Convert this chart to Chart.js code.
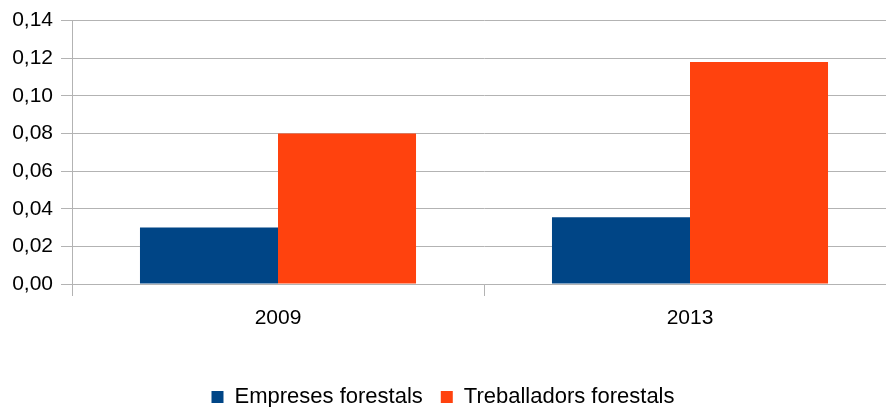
<!DOCTYPE html>
<html>
<head>
<meta charset="utf-8">
<script src="https://cdn.jsdelivr.net/npm/chart.js@4/dist/chart.umd.min.js"></script>
<style>
  html, body { margin: 0; padding: 0; background: #fff; overflow: hidden; }
  #clip { width: 886px; height: 407px; overflow: hidden; position: relative; }
  #wrap { width: 896px; height: 418px; position: absolute; left: 0; top: 0; }
</style>
</head>
<body>
<div id="clip"><div id="wrap"><canvas id="chart"></canvas></div></div>
<script>
// dades llegides del gràfic
const years = ['2009', '2013'];
const empreses = [0.030, 0.0355];
const treballadors = [0.080, 0.118];
const yTicks = [0, 0.02, 0.04, 0.06, 0.08, 0.10, 0.12, 0.14];

const gridColor = '#b3b3b3';
const fontFamily = '"Liberation Sans", Arial, sans-serif';

function fmt(v) {
    return v.toFixed(2).replace('.', ',');
}

// el gràfic original queda retallat a la dreta: la llegenda es centra a 886px
const legendShift = {
    id: 'legendShift',
    afterUpdate(chart) {
        if (chart.legend) {
            chart.legend.right = 886;
        }
    }
};

const ctx = document.getElementById('chart');

new Chart(ctx, {
    type: 'bar',
    data: {
        labels: years,
        datasets: [{
            label: 'Empreses forestals',
            data: empreses,
            backgroundColor: '#004586',
            borderWidth: 0
        }, {
            label: 'Treballadors forestals',
            data: treballadors,
            backgroundColor: '#ff420e',
            borderWidth: 0
        }]
    },
    options: {
        responsive: true,
        maintainAspectRatio: false,
        animation: false,
        categoryPercentage: 0.67,
        barPercentage: 1.0,
        layout: {
            padding: { top: 9, right: 0, left: 0, bottom: 0 }
        },
        plugins: {
            legend: {
                position: 'bottom',
                labels: {
                    color: '#000',
                    boxWidth: 12,
                    boxHeight: 12,
                    padding: 18,
                    font: { family: fontFamily, size: 22 }
                }
            },
            tooltip: { enabled: false }
        },
        scales: {
            x: {
                grid: {
                    display: true,
                    offset: true,
                    drawOnChartArea: false,
                    drawTicks: true,
                    tickLength: 12,
                    color: gridColor
                },
                border: { color: gridColor, width: 1 },
                ticks: {
                    color: '#000',
                    padding: 10,
                    font: { family: fontFamily, size: 21 }
                },
                afterFit: function(scale) {
                    scale.height = 84;
                }
            },
            y: {
                min: 0,
                max: 0.14,
                afterBuildTicks: function(scale) {
                    scale.ticks = yTicks.map(v => ({ value: v }));
                },
                grid: {
                    color: gridColor,
                    tickLength: 11
                },
                border: { color: gridColor, width: 1 },
                ticks: {
                    color: '#000',
                    padding: 8,
                    font: { family: fontFamily, size: 21 },
                    callback: function(value) {
                        return fmt(value);
                    }
                },
                afterFit: function(scale) {
                    scale.width = 72;
                }
            }
        }
    },
    plugins: [legendShift]
});
</script>
</body>
</html>
